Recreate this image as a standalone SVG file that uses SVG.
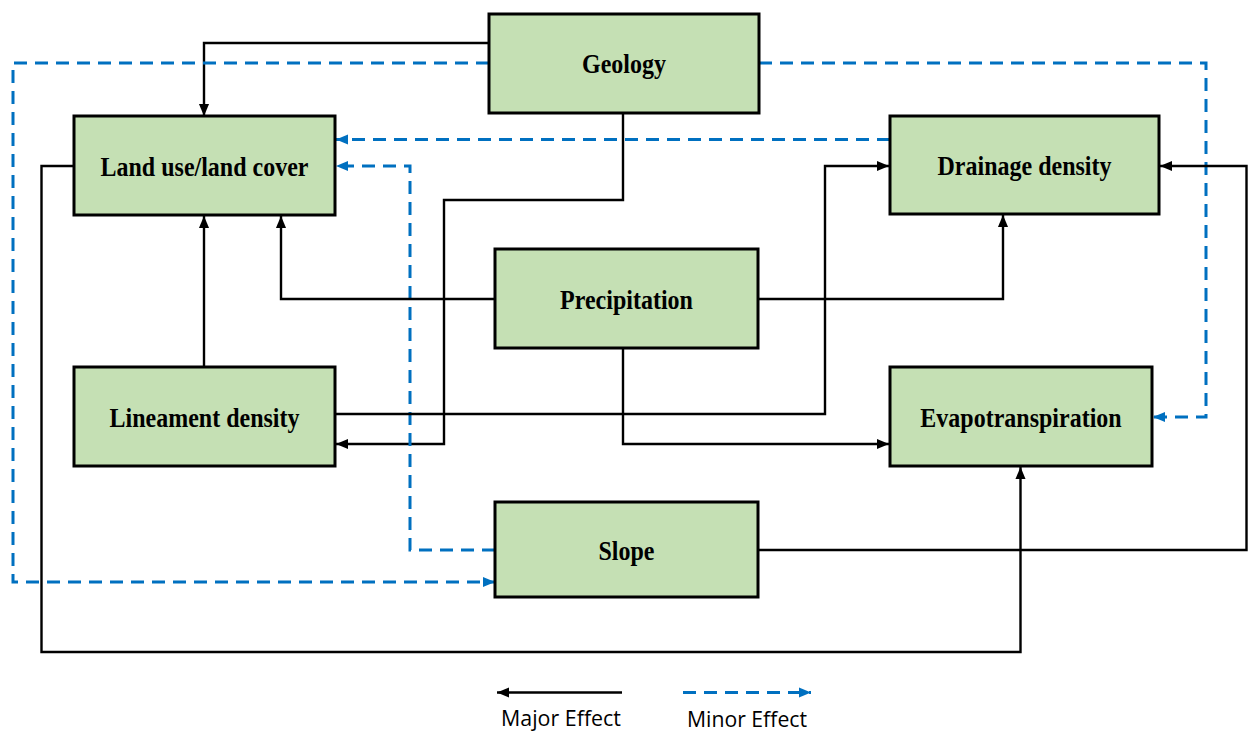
<svg xmlns="http://www.w3.org/2000/svg" width="1253" height="731" viewBox="0 0 1253 731">
<style>
.box{fill:#C5E0B4;stroke:#000;stroke-width:3}
.lbl{font-family:"Liberation Serif","Times New Roman",serif;font-weight:bold;font-size:24px;fill:#000;text-anchor:middle}
.maj{fill:none;stroke:#000;stroke-width:2.4;marker-end:url(#ab)}
.min{fill:none;stroke:#0070C0;stroke-width:3;stroke-dasharray:13 8;marker-end:url(#au)}
.leg{font-family:"Open Sans","Liberation Sans",sans-serif;font-size:21px;fill:#000}
</style>
<defs>
<marker id="ab" markerUnits="userSpaceOnUse" markerWidth="12" markerHeight="12" viewBox="0 0 10 10" refX="10" refY="5" orient="auto">
<path d="M0,0.8 L10,5 L0,9.2 z" fill="#000"/>
</marker>
<marker id="au" markerUnits="userSpaceOnUse" markerWidth="12" markerHeight="12" viewBox="0 0 10 10" refX="10" refY="5" orient="auto">
<path d="M0,0.8 L10,5 L0,9.2 z" fill="#0070C0"/>
</marker>
</defs>
<rect width="1253" height="731" fill="#fff"/>
<g id="connectors">
<path class="maj" d="M489,43 H204 V116"/>
<path class="min" d="M489,63 H13 V582 H495"/>
<path class="maj" d="M623,113 V200 H444 V444 H336"/>
<path class="min" d="M759,63 H1206 V417 H1153"/>
<path class="min" d="M890,139.5 H336"/>
<path class="min" d="M495,550 H410 V166 H336"/>
<path class="maj" d="M74,166 H41.5 V652 H1020.5 V467"/>
<path class="maj" d="M204,367 V216"/>
<path class="maj" d="M495,299 H281 V216"/>
<path class="maj" d="M758,299 H1003 V215"/>
<path class="maj" d="M623,348 V444 H889"/>
<path class="maj" d="M335,414 H825 V166 H889"/>
<path class="maj" d="M758,550 H1246.5 V166 H1160"/>
</g>
<g id="geology"><rect class="box" x="489" y="14" width="270" height="99"/><text class="lbl" transform="translate(624,72.8) scale(1,1.11)">Geology</text></g>
<g id="landuse"><rect class="box" x="74" y="116" width="261" height="99"/><text class="lbl" transform="translate(204.5,175.5) scale(1,1.11)">Land use/land cover</text></g>
<g id="drainage"><rect class="box" x="890" y="116" width="269" height="98"/><text class="lbl" transform="translate(1024.5,175) scale(1,1.11)">Drainage density</text></g>
<g id="precipitation"><rect class="box" x="495" y="249" width="263" height="99"/><text class="lbl" transform="translate(626.5,308.5) scale(1,1.11)">Precipitation</text></g>
<g id="lineament"><rect class="box" x="74" y="367" width="261" height="99"/><text class="lbl" transform="translate(204.5,426.5) scale(1,1.11)">Lineament density</text></g>
<g id="evapotranspiration"><rect class="box" x="890" y="367" width="262" height="99"/><text class="lbl" transform="translate(1021,426.5) scale(1,1.11)">Evapotranspiration</text></g>
<g id="slope"><rect class="box" x="495" y="502" width="263" height="95"/><text class="lbl" transform="translate(626.5,559.5) scale(1,1.11)">Slope</text></g>
<g id="legend">
<path class="maj" d="M622,692.5 H497"/>
<path class="min" d="M683,692.5 H811"/>
<text class="leg" x="501" y="726" textLength="120" lengthAdjust="spacingAndGlyphs">Major Effect</text>
<text class="leg" x="687" y="727" textLength="120" lengthAdjust="spacingAndGlyphs">Minor Effect</text>
</g>
</svg>
